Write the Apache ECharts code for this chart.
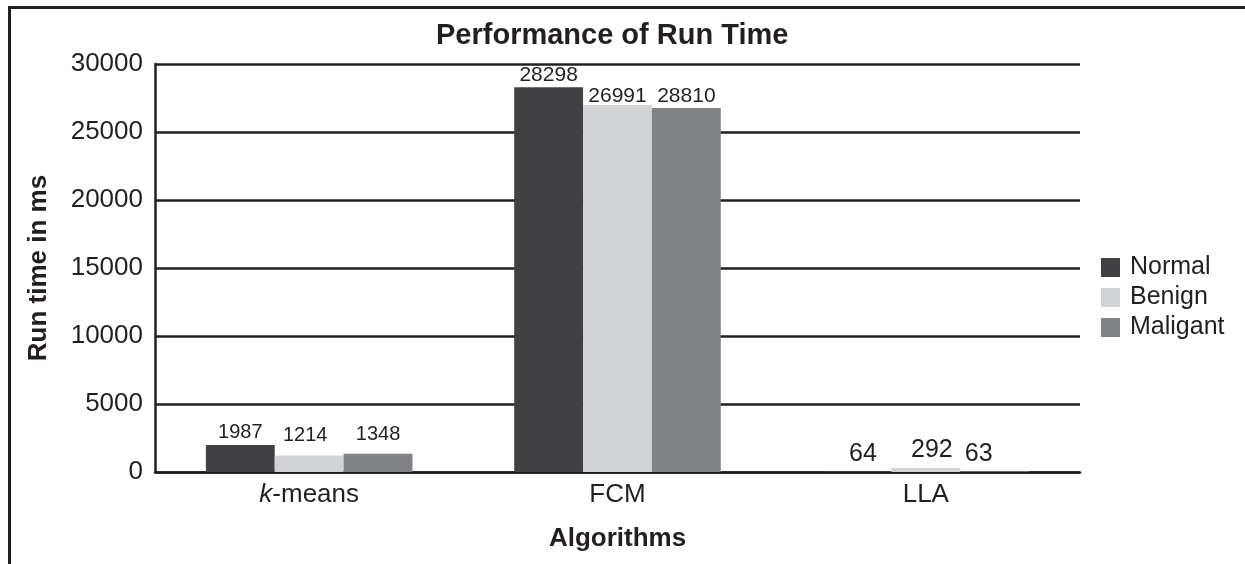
<!DOCTYPE html>
<html>
<head>
<meta charset="utf-8">
<script src="https://cdn.jsdelivr.net/npm/echarts@6/dist/echarts.min.js"></script>
<style>
html,body{margin:0;padding:0;background:#fff;}
#chart{width:1245px;height:564px;}
</style>
</head>
<body>
<div id="chart"></div>
<script>
// ---- data ----
const categories = ['k-means', 'FCM', 'LLA'];
const seriesNames = ['Normal', 'Benign', 'Maligant'];
// bar heights as drawn
const normalValues = [1987, 28298, 64];
const benignValues = [1214, 26991, 292];
const maligantValues = [1348, 26770, 63];
// data label texts as printed
const normalLabels = ['1987', '28298', '64'];
const benignLabels = ['1214', '26991', '292'];
const maligantLabels = ['1348', '28810', '63'];
const yTicks = [0, 5000, 10000, 15000, 20000, 25000, 30000];

const colors = ['#414042', '#d1d3d4', '#808285'];
const ink = '#231f20';
const FONT = '"Liberation Sans", Arial, sans-serif';

// per-item label styling (series x category)
const labelFont = [[20, 21, 25], [20, 21, 25], [20, 21, 25]];
const labelDist = [[2, 1, 5], [10.5, -2, 5], [8.7, 1, 5]];
const labelOffsets = [
  [[0,0],[0,0],[6,0]],
  [[-4,0],[0,0],[6,0]],
  [[0,0],[0,0],[-16,0]]
];

function buildData(values, labels, si) {
  return values.map((v, i) => ({
    value: v,
    label: {
      formatter: labels[i],
      fontSize: labelFont[si][i],
      distance: labelDist[si][i],
      offset: labelOffsets[si][i]
    }
  }));
}

const valueSets = [normalValues, benignValues, maligantValues];
const labelSets = [normalLabels, benignLabels, maligantLabels];

const chart = echarts.init(document.getElementById('chart'), null, {renderer: 'canvas'});
chart.setOption({
  animation: false,
  backgroundColor: '#fff',
  textStyle: {fontFamily: FONT, color: ink},
  title: {
    text: 'Performance of Run Time',
    left: 431,
    top: 16,
    textStyle: {fontFamily: FONT, fontSize: 29, fontWeight: 'bold', color: ink}
  },
  legend: {
    orient: 'vertical',
    left: 1096,
    top: 250,
    itemWidth: 19,
    itemHeight: 19,
    itemGap: 5,
    icon: 'rect',
    data: seriesNames,
    textStyle: {fontFamily: FONT, fontSize: 25, color: ink, padding: [0, 0, 0, 5]}
  },
  grid: {left: 155, right: 165, top: 64, bottom: 92, containLabel: false},
  xAxis: {
    type: 'category',
    data: categories,
    name: 'Algorithms',
    nameLocation: 'middle',
    nameGap: 54,
    nameTextStyle: {fontFamily: FONT, fontSize: 26, fontWeight: 'bold', color: ink},
    axisLine: {show: true, lineStyle: {color: ink, width: 2.5}},
    axisTick: {show: false},
    axisLabel: {
      fontFamily: FONT, fontSize: 26, color: ink, margin: 10,
      formatter: function (v) {
        if (v.indexOf('k-') === 0) return '{i|k}' + v.slice(1);
        return v;
      },
      rich: {i: {fontFamily: FONT, fontSize: 26, fontStyle: 'italic', color: ink}}
    }
  },
  yAxis: {
    type: 'value',
    min: yTicks[0],
    max: yTicks[yTicks.length - 1],
    interval: yTicks[1] - yTicks[0],
    name: 'Run time in ms',
    nameLocation: 'middle',
    nameGap: 103,
    nameRotate: 90,
    nameTextStyle: {fontFamily: FONT, fontSize: 26, fontWeight: 'bold', color: ink},
    axisLine: {show: true, lineStyle: {color: ink, width: 2.5}},
    axisTick: {show: false},
    axisLabel: {
      fontFamily: FONT, fontSize: 26, color: ink, margin: 12,
      formatter: function (v) { return String(v); }
    },
    splitLine: {show: true, lineStyle: {color: ink, width: 2.5}}
  },
  series: seriesNames.map((name, si) => ({
    name: name,
    type: 'bar',
    barGap: '0%',
    barCategoryGap: '33%',
    itemStyle: {color: colors[si]},
    label: {
      show: true,
      position: 'top',
      fontFamily: FONT,
      color: ink
    },
    data: buildData(valueSets[si], labelSets[si], si)
  })),
  graphic: [
    {type: 'line', shape: {x1: 8, y1: 7.5, x2: 1245, y2: 7.5}, style: {stroke: ink, lineWidth: 3}},
    {type: 'line', shape: {x1: 9.5, y1: 6, x2: 9.5, y2: 564}, style: {stroke: ink, lineWidth: 3}}
  ]
});
</script>
</body>
</html>
